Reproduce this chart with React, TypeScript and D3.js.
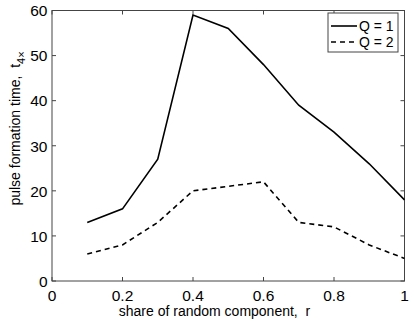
import React from "react";
import * as d3 from "d3";

const xs = [0.1, 0.2, 0.3, 0.4, 0.5, 0.6, 0.7, 0.8, 0.9, 1.0];
const q1 = [13, 16, 27, 59, 56, 48, 39, 33, 26, 18];
const q2 = [6, 8, 13, 20, 21, 22, 13, 12, 8, 5];
const xTicks = [0, 0.2, 0.4, 0.6, 0.8, 1];
const yTicks = [0, 10, 20, 30, 40, 50, 60];
const seriesNames = ["Q = 1", "Q = 2"];

export default function App() {
  const W = 409, H = 327;
  const L = 52, R = 404.5, T = 10.5, B = 281;
  const x = d3.scaleLinear().domain([0, 1]).range([L, R]);
  const y = d3.scaleLinear().domain([0, 60]).range([B, T]);
  const line = d3.line<number>().x((_, i) => x(xs[i])).y(d => y(d));
  const font = "'Liberation Sans', Arial, Helvetica, sans-serif";
  const tl = 4;
  const tickFs = 15.5;
  return (
    <svg width={W} height={H} style={{ position: "absolute", left: 0, top: 0, background: "#fff" }} fontFamily={font}>
      <rect x={0} y={0} width={W} height={H} fill="#fff" />
      <rect x={L} y={T} width={R - L} height={B - T} fill="none" stroke="#444" strokeWidth={1} />
      {xTicks.map(t => (
        <g key={"x" + t}>
          <line x1={x(t)} x2={x(t)} y1={B} y2={B - tl} stroke="#444" />
          <line x1={x(t)} x2={x(t)} y1={T} y2={T + tl} stroke="#444" />
          <text x={x(t)} y={B + 19.5} textAnchor="middle" fontSize={tickFs}>{String(t)}</text>
        </g>
      ))}
      {yTicks.map(t => (
        <g key={"y" + t}>
          <line x1={L} x2={L + tl} y1={y(t)} y2={y(t)} stroke="#444" />
          <line x1={R} x2={R - tl} y1={y(t)} y2={y(t)} stroke="#444" />
          <text x={L - 4.5} y={y(t) + 5.8} textAnchor="end" fontSize={tickFs}>{String(t)}</text>
        </g>
      ))}
      <path d={line(q1) || ""} fill="none" stroke="#000" strokeWidth={1.6} />
      <path d={line(q2) || ""} fill="none" stroke="#000" strokeWidth={1.6} strokeDasharray="5,4" />
      <text x={214.5} y={316} textAnchor="middle" fontSize={14}>share of random component,{"\u00a0\u00a0"}r</text>
      <text transform={`translate(19.5, 128.5) rotate(-90)`} textAnchor="middle" fontSize={14}>
        pulse formation time,{"\u00a0\u00a0"}t<tspan dy={5} fontSize={11}>4×</tspan>
      </text>
      <g>
        <rect x={328} y={13} width={70} height={39} fill="#fff" stroke="#444" />
        <line x1={331} x2={357} y1={26} y2={26} stroke="#000" strokeWidth={1.6} />
        <text x={359} y={31} fontSize={14}>{seriesNames[0]}</text>
        <line x1={331} x2={357} y1={42} y2={42} stroke="#000" strokeWidth={1.6} strokeDasharray="5,4" />
        <text x={359} y={47} fontSize={14}>{seriesNames[1]}</text>
      </g>
    </svg>
  );
}
